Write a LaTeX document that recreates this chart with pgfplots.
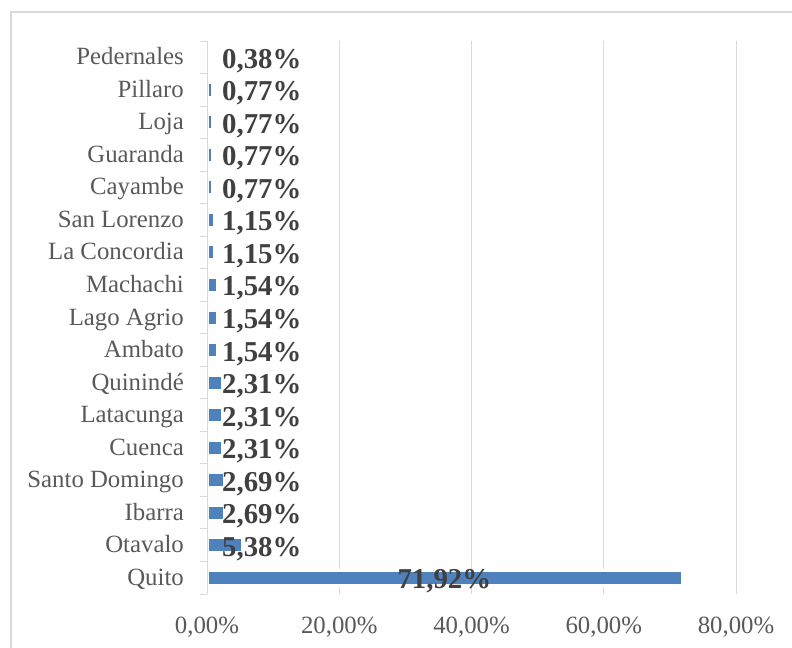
\documentclass[border=0pt]{standalone}
\usepackage{pgfplots}
\pgfplotsset{compat=1.18}
\usepackage{fontspec}
\setmainfont{Liberation Serif}
\definecolor{barc}{HTML}{4F81BD}
\definecolor{gridc}{HTML}{D9D9D9}
\definecolor{labc}{HTML}{595959}
\definecolor{valc}{HTML}{404040}
\newcommand{\catfont}{\fontsize{24.8bp}{29bp}\selectfont}
\newcommand{\valfont}{\fontsize{28.8bp}{33bp}\selectfont\bfseries}
\begin{document}
\begin{tikzpicture}
\useasboundingbox (0bp,0bp) rectangle (792bp,-648bp);
\draw[gridc, line width=1.3bp] (11bp,-12bp) rectangle (820bp,-680bp);
\begin{axis}[
  at={(207bp,-594bp)}, anchor=south west,
  scale only axis, width=529bp, height=553bp,
  xmin=0, xmax=80, ymin=-0.5, ymax=16.5,
  axis lines*=left,
  x axis line style={draw=none},
  y axis line style={draw=gridc, line width=1bp},
  xtick={0,20,40,60,80},
  xticklabels={{0,00\%},{20,00\%},{40,00\%},{60,00\%},{80,00\%}},
  xmajorgrids,
  major grid style={draw=gridc, line width=1bp},
  ytick={0,...,16},
  yticklabels={Quito,Otavalo,Ibarra,Santo Domingo,Cuenca,Latacunga,Quinindé,Ambato,Lago Agrio,Machachi,La Concordia,San Lorenzo,Cayambe,Guaranda,Loja,Pillaro,Pedernales},
  minor ytick={-0.5,0.5,...,16.5},
  major tick length=0pt,
  minor tick length=7bp,
  tick align=outside,
  minor tick style={draw=gridc, line width=1bp},
  xticklabel style={anchor=north, inner sep=0pt, yshift=-23bp, font=\catfont, text=labc},
  yticklabel style={anchor=base east, inner sep=0pt, xshift=-23bp, yshift=-7.5bp, font=\catfont, text=labc},
  clip=false,
]
\addplot[xbar, bar width=15bp, bar shift=0pt, fill=barc, draw=white, line width=3bp] table[x=val, y=idx] {
idx val
0 71.92
1 5.38
2 2.69
3 2.69
4 2.31
5 2.31
6 2.31
7 1.54
8 1.54
9 1.54
10 1.15
11 1.15
12 0.77
13 0.77
14 0.77
15 0.77
16 0.38
};
\draw[gridc, line width=1bp] (axis cs:0,-0.5) -- (axis cs:0,16.5);
\addplot[draw=none, mark=none, point meta=explicit,
  nodes near coords={\pgfmathprintnumber{\pgfplotspointmeta}\%},
  nodes near coords style={anchor=base west, inner sep=0pt, yshift=-11bp, font=\valfont, text=valc,
    /pgf/number format/fixed, /pgf/number format/fixed zerofill, /pgf/number format/precision=2,
    /pgf/number format/use comma, /pgf/number format/assume math mode=true}]
 table[x=pos, y=idx, meta=val] {
idx pos val
1 2.27 5.38
2 2.27 2.69
3 2.27 2.69
4 2.27 2.31
5 2.27 2.31
6 2.27 2.31
7 2.27 1.54
8 2.27 1.54
9 2.27 1.54
10 2.27 1.15
11 2.27 1.15
12 2.27 0.77
13 2.27 0.77
14 2.27 0.77
15 2.27 0.77
16 2.27 0.38
};
\addplot[draw=none, mark=none, point meta=explicit,
  nodes near coords={\pgfmathprintnumber{\pgfplotspointmeta}\%},
  nodes near coords style={anchor=base, inner sep=0pt, yshift=-11bp, font=\valfont, text=valc,
    /pgf/number format/fixed, /pgf/number format/fixed zerofill, /pgf/number format/precision=2,
    /pgf/number format/use comma, /pgf/number format/assume math mode=true}]
 table[x=pos, y=idx, meta=val] {
idx pos val
0 35.9 71.92
};
\end{axis}
\end{tikzpicture}
\end{document}
